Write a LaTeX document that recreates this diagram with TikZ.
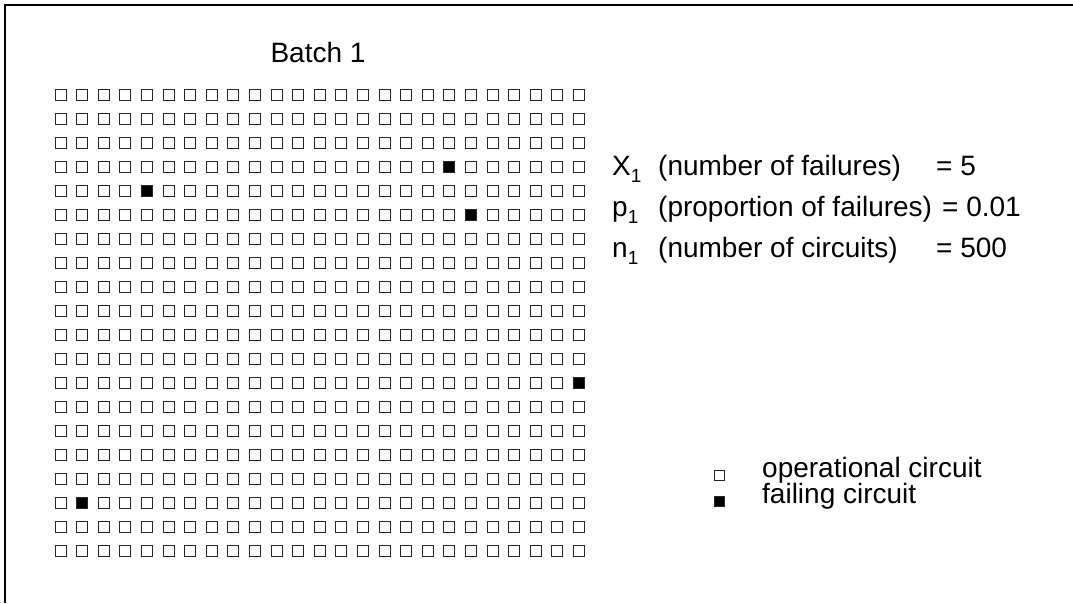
\documentclass[tikz,border=0pt]{standalone}
\usepackage{fontspec}
\setmainfont{Liberation Sans}
% lowered index digit, as in X_1
\newcommand\lowidx[1]{\raisebox{-7pt}{\fontsize{19}{19}\selectfont #1}}
% failing circuits: row@column
\expandafter\def\csname fail@3@18\endcsname{}
\expandafter\def\csname fail@4@4\endcsname{}
\expandafter\def\csname fail@5@19\endcsname{}
\expandafter\def\csname fail@12@24\endcsname{}
\expandafter\def\csname fail@17@1\endcsname{}
\begin{document}
\begin{tikzpicture}[x=1pt,y=-1pt,
  cell/.style={draw=black!85,line width=1.1pt,minimum size=11pt,inner sep=0pt,anchor=north west},
  failcell/.style={cell,fill=black},
  lbl/.style={font=\fontsize{28}{30}\selectfont,inner sep=0pt,anchor=base west},
]
\useasboundingbox (0,0) rectangle (1073,603);
% frame
\coordinate (fbl) at (5,603);
\coordinate (ftl) at (5,5);
\coordinate (ftr) at (1073,5);
\draw[line width=1.5pt] (fbl) -- (ftl) -- (ftr);

% title
\node[lbl,anchor=base] (title) at (318,62) {Batch 1};

% batch of 20 x 25 circuits, snapped to whole points
\foreach \i in {0,...,19}{
  \foreach \j in {0,...,24}{
    \ifcsname fail@\i @\j\endcsname \def\st{failcell}\else \def\st{cell}\fi
    \pgfmathsetmacro\cx{round(53.6+21.6*\j)+0.5}
    \node[\st] (c-\i-\j) at (\cx,{88.5+24*\i}) {};
  }
}

% summary
\node[lbl] (xsym) at (612,175) {X\lowidx{1}};
\node[lbl] (xdesc) at (658,175) {(number of failures)};
\node[lbl] (xval) at (936,175) {= 5};
\node[lbl] (psym) at (612,216) {p\lowidx{1}};
\node[lbl] (pdesc) at (658,216) {(proportion of failures)};
\node[lbl] (pval) at (942,216) {= 0.01};
\node[lbl] (nsym) at (612,257) {n\lowidx{1}};
\node[lbl] (ndesc) at (658,257) {(number of circuits)};
\node[lbl] (nval) at (936,257) {= 500};

% legend
\node[cell,minimum size=10pt] (kop) at (713.5,469.5) {};
\node[failcell,minimum size=10pt] (kfail) at (713.5,495.5) {};
\node[lbl] (top) at (762,477) {operational circuit};
\node[lbl] (tfail) at (762,503) {failing circuit};
\end{tikzpicture}
\end{document}
